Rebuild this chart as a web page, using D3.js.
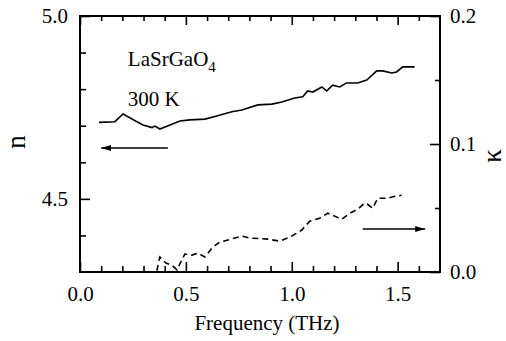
<!DOCTYPE html>
<html>
<head>
<meta charset="utf-8">
<script src="https://cdn.jsdelivr.net/npm/d3@7"></script>
<style>
body { margin: 0; background: #fff; }
svg text { font-family: "Liberation Serif", "DejaVu Serif", "Noto Serif", serif; }
</style>
</head>
<body>
<div id="chart-area"></div>
<script>
// Solid line = n (left axis)
// Dashed line = kappa (right axis)
// X Axis = Frequency (THz)

var FONT = "Liberation Serif, DejaVu Serif, serif";

var freqN = [0.09, 0.165, 0.203, 0.297, 0.34, 0.354, 0.377, 0.425, 0.472, 0.519, 0.59, 0.637,
    0.717, 0.764, 0.84, 0.906, 0.953, 1.014, 1.052, 1.075, 1.099, 1.142, 1.165, 1.193,
    1.226, 1.259, 1.311, 1.354, 1.401, 1.429, 1.472, 1.495, 1.524, 1.58];
var nValues = [4.709, 4.711, 4.732, 4.702, 4.695, 4.699, 4.691, 4.702, 4.713, 4.716, 4.718, 4.725,
    4.738, 4.743, 4.757, 4.759, 4.765, 4.776, 4.779, 4.795, 4.792, 4.806, 4.795, 4.811,
    4.806, 4.817, 4.817, 4.825, 4.850, 4.850, 4.844, 4.847, 4.861, 4.861];

var freqK = [0.363, 0.377, 0.406, 0.434, 0.458, 0.476, 0.495, 0.528, 0.557, 0.59, 0.627, 0.66,
    0.731, 0.764, 0.802, 0.887, 0.943, 0.991, 1.047, 1.085, 1.132, 1.17, 1.193, 1.236,
    1.274, 1.311, 1.344, 1.358, 1.382, 1.406, 1.453, 1.486, 1.519];
var kValues = [0.001, 0.0117, 0.007, 0.0054, 0.0016, 0.0078, 0.014, 0.0132, 0.0148, 0.0117, 0.0195, 0.0233,
    0.0265, 0.028, 0.0265, 0.0257, 0.0241, 0.0272, 0.0327, 0.0397, 0.042, 0.0459, 0.0444, 0.0412,
    0.0459, 0.049, 0.0537, 0.0529, 0.0498, 0.0576, 0.0576, 0.0591, 0.0599];

var xMajor = [0, 0.5, 1.0, 1.5];
var xMinor = [0.1, 0.2, 0.3, 0.4, 0.6, 0.7, 0.8, 0.9, 1.1, 1.2, 1.3, 1.4, 1.6];
var nMajor = [4.5, 5.0];
var nMinor = [4.4, 4.6, 4.7, 4.8, 4.9];
var kMajor = [0, 0.1, 0.2];
var kMinor = [0.05, 0.15];

// annotations in data units
var labelPos = {f: 0.226, n1: 4.863, n2: 4.754};
var arrowLeft = {f0: 0.415, f1: 0.1, n: 4.639};
var arrowRight = {f0: 1.335, f1: 1.63, k: 0.0336};

var margin = {top: 16, left: 80, bottom: 69, right: 66};
var width = 506 - margin.left - margin.right,
    height = 341 - margin.top - margin.bottom;

var svg = d3.select("#chart-area")
    .append("svg")
        .attr("width", width + margin.left + margin.right)
        .attr("height", height + margin.top + margin.bottom)
        .attr("font-family", FONT);

svg.append("defs").append("marker")
    .attr("id", "head")
    .attr("viewBox", "0 0 10 6")
    .attr("refX", 10)
    .attr("refY", 3)
    .attr("markerWidth", 10)
    .attr("markerHeight", 6)
    .attr("markerUnits", "userSpaceOnUse")
    .attr("orient", "auto")
  .append("path")
    .attr("d", "M0,0L10,3L0,6Z")
    .attr("fill", "#000");

var g = svg.append("g")
    .attr("transform", "translate(" + margin.left + ", " + margin.top + ")");

// Scales
var x = d3.scaleLinear().domain([0, 1.7]).range([0, width]);
var yN = d3.scaleLinear().domain([4.3, 5.0]).range([height, 0]);
var yK = d3.scaleLinear().domain([0, 0.2]).range([height, 0]);

function tidy(sel) {
    sel.attr("font-family", null).attr("font-size", null);
    sel.select(".domain").remove();
    sel.selectAll("line").attr("stroke", "#000").attr("stroke-width", 1.6);
    sel.selectAll("text")
        .attr("font-size", "21px")
        .attr("fill", "#000");
}

// Axes (ticks point inward)
g.append("g")
    .attr("transform", "translate(0, " + height + ")")
    .call(d3.axisBottom(x).tickValues(xMajor).tickSize(-10).tickPadding(14).tickFormat(d3.format(".1f")))
    .call(tidy);
g.append("g")
    .attr("transform", "translate(0, " + height + ")")
    .call(d3.axisBottom(x).tickValues(xMinor).tickSize(-6).tickFormat(""))
    .call(tidy);
g.append("g")
    .call(d3.axisTop(x).tickValues(xMajor).tickSize(-9).tickFormat(""))
    .call(tidy);
g.append("g")
    .call(d3.axisTop(x).tickValues(xMinor).tickSize(-5).tickFormat(""))
    .call(tidy);

g.append("g")
    .call(d3.axisLeft(yN).tickValues(nMajor).tickSize(-10).tickPadding(12).tickFormat(d3.format(".1f")))
    .call(tidy);
g.append("g")
    .call(d3.axisLeft(yN).tickValues(nMinor).tickSize(-6).tickFormat(""))
    .call(tidy);

g.append("g")
    .attr("transform", "translate(" + width + ", 0)")
    .call(d3.axisRight(yK).tickValues(kMajor).tickSize(-10).tickPadding(10).tickFormat(d3.format(".1f")))
    .call(tidy);
g.append("g")
    .attr("transform", "translate(" + width + ", 0)")
    .call(d3.axisRight(yK).tickValues(kMinor).tickSize(-5).tickFormat(""))
    .call(tidy);

// frame
g.append("rect")
    .attr("width", width)
    .attr("height", height)
    .attr("fill", "none")
    .attr("stroke", "#000")
    .attr("stroke-width", 2);

// Axis labels
g.append("text")
    .attr("x", 187)
    .attr("y", height + 58)
    .attr("text-anchor", "middle")
    .attr("font-size", "21px")
    .text("Frequency (THz)");

g.append("text")
    .attr("transform", "translate(-55, " + (height / 2 - 2) + ") rotate(-90)")
    .attr("text-anchor", "middle")
    .attr("font-size", "27px")
    .text("n");

g.append("text")
    .attr("transform", "translate(" + (width + 61) + ", " + (height / 2 + 12) + ") rotate(-90)")
    .attr("text-anchor", "middle")
    .attr("font-size", "27px")
    .text("κ");

// Curves
var nData = freqN.map((f, i) => ({f: f, v: nValues[i]}));
var kData = freqK.map((f, i) => ({f: f, v: kValues[i]}));

g.append("path")
    .datum(nData)
    .attr("fill", "none")
    .attr("stroke", "#000")
    .attr("stroke-width", 1.6)
    .attr("d", d3.line().x((d) => x(d.f)).y((d) => yN(d.v)));

g.append("path")
    .datum(kData)
    .attr("fill", "none")
    .attr("stroke", "#000")
    .attr("stroke-width", 1.6)
    .attr("stroke-dasharray", "6,4")
    .attr("d", d3.line().x((d) => x(d.f)).y((d) => yK(d.v)));

// Annotations
var label = g.append("text")
    .attr("x", x(labelPos.f))
    .attr("y", yN(labelPos.n1))
    .attr("font-size", "21px");
label.append("tspan").text("LaSrGaO");
label.append("tspan").attr("dy", 6).attr("font-size", "15px").text("4");

g.append("text")
    .attr("x", x(labelPos.f))
    .attr("y", yN(labelPos.n2))
    .attr("font-size", "21px")
    .text("300 K");

g.append("line")
    .attr("x1", x(arrowLeft.f0)).attr("x2", x(arrowLeft.f1))
    .attr("y1", yN(arrowLeft.n)).attr("y2", yN(arrowLeft.n))
    .attr("stroke", "#000")
    .attr("stroke-width", 1.4)
    .attr("marker-end", "url(#head)");

g.append("line")
    .attr("x1", x(arrowRight.f0)).attr("x2", x(arrowRight.f1))
    .attr("y1", yK(arrowRight.k)).attr("y2", yK(arrowRight.k))
    .attr("stroke", "#000")
    .attr("stroke-width", 1.4)
    .attr("marker-end", "url(#head)");
</script>
</body>
</html>
